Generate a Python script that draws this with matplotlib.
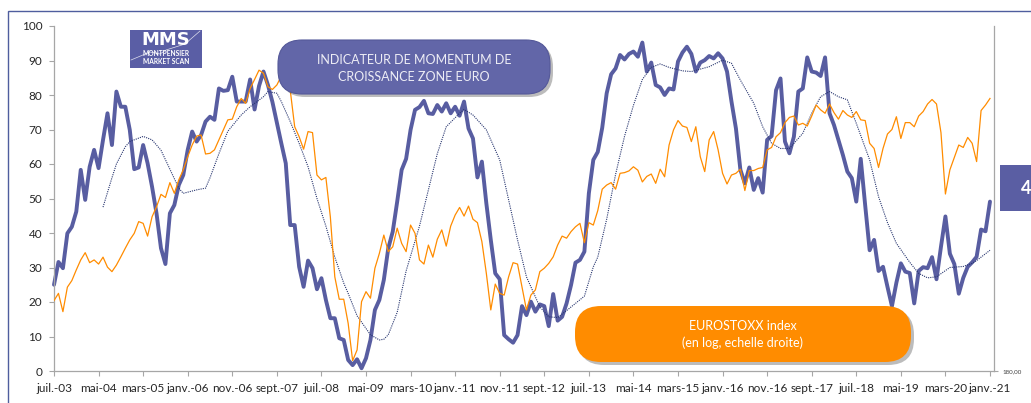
import numpy as np
import matplotlib.pyplot as plt
from matplotlib.patches import FancyBboxPatch, Rectangle
from matplotlib.lines import Line2D

# monthly values, juil.-03 .. janv.-21 (growth momentum indicator, left scale)
momentum = [25, 31.6, 29.8, 39.9, 41.8, 46.2, 58.3, 49.6, 59.2, 64.1,
            58.8, 67, 74.7, 65.5, 81, 76.6, 76.6, 69.9, 58.5, 59,
            65.5, 60.2, 53.4, 45.7, 35.6, 31, 45.7, 48.1, 53.9, 56.8,
            64.1, 69.4, 66.5, 68.4, 72.3, 73.7, 72.8, 81.9, 81.2, 81.4,
            85.3, 78.1, 78.1, 78.1, 84.5, 75.8, 82.6, 86.8, 82.9, 78,
            72, 66, 60.2, 42.3, 42.3, 30.2, 24.4, 32, 29.8, 23.7,
            26.9, 20.6, 15.3, 15.3, 9.5, 9, 3.2, 1.7, 3.4, 0.8,
            3.7, 9, 17.7, 20.6, 26.4, 35.6, 40.4, 49.1, 58.3, 61.5,
            69.9, 75.7, 76.5, 78.3, 74.7, 74.5, 77.1, 75.2, 77.6, 74.7,
            76.6, 74, 78.1, 70.3, 67.4, 56.1, 60.7, 48.6, 38, 28.3,
            26.6, 10.4, 9.2, 8.2, 10.4, 18.8, 16.2, 20.1, 17.2, 19.3,
            18.8, 13, 22.3, 14.6, 15.7, 19.6, 24.9, 31.4, 32.2, 34.6,
            51.5, 61.2, 63.5, 70.5, 80.5, 86, 87.7, 91.6, 90.3, 91.9,
            92.6, 91.1, 95.2, 86.8, 89.4, 82.9, 82.2, 80, 81.9, 81.6,
            89.7, 92.3, 94, 91.9, 86.8, 89.4, 90.1, 91.3, 90.6, 92.1,
            90.6, 86.8, 78.1, 70.3, 58.3, 54.4, 59, 52.5, 55.9, 51.7,
            67, 68.1, 81.4, 84.8, 66.5, 63.1, 67.9, 81, 81.9, 90.9,
            86.8, 86.5, 85.5, 90.9, 74.7, 71.3, 67, 62.6, 57.8, 55.9,
            49.1, 61.5, 48, 35, 38, 29, 30.2, 24.4, 18.8, 25.6,
            31.2, 28.8, 28.4, 19.6, 29, 30.1, 29.8, 33, 26.6, 36,
            44.8, 34, 31, 22.4, 27, 30.2, 31.5, 33.1, 41, 40.5,
            49.1]

# eurostoxx, read in chart units of the left scale (log scale on the right)
eurostoxx = [20.4, 22.5, 17.2, 24.3, 26.2, 29.3, 32.2, 34.3, 31.4, 32.2,
             31, 33, 30.1, 28.8, 30.7, 33.1, 35.6, 38, 39.9, 43.3,
             42.8, 39.1, 44.7, 47.6, 51.2, 50.3, 54.6, 51.5, 55.4, 58.3,
             62.1, 65.5, 68.1, 68.4, 62.9, 63.1, 64.1, 67, 69.9, 72.8,
             73, 76.6, 79, 77.6, 81.9, 84.5, 87.2, 86.3, 82.4, 81.6,
             82.9, 85.5, 82.4, 81.4, 70.8, 67.9, 64.3, 69.4, 69.1, 56.8,
             55.4, 56.1, 44.7, 27.3, 20.8, 20.8, 13.8, 3, 6.1, 20.1,
             23, 21.1, 29.8, 34.1, 39.4, 34.6, 36, 41.4, 37, 34.6,
             42.3, 39.9, 32.2, 31, 36.5, 33, 38.2, 40.9, 36.2, 42,
             45.2, 47.4, 44.9, 47.8, 44, 43, 37.5, 28.3, 17.7, 25.2,
             22.5, 22, 27.3, 31.4, 31, 24.4, 17.7, 22, 23.5, 28.8,
             29.8, 31.2, 33.1, 36.5, 39.1, 38.5, 40.4, 41.8, 42.8, 37.2,
             43, 42.3, 46.5, 52.7, 53.9, 54.6, 52.7, 57.3, 57.5, 58,
             59.2, 58.2, 54.8, 56.4, 57.1, 54.4, 58.5, 56.3, 65.5, 69.9,
             72.6, 71, 70.6, 66.5, 70.8, 62.1, 57.8, 67, 69.4, 64.1,
             57.3, 54.2, 56.8, 57.3, 58.5, 52.3, 58.1, 58.1, 58.7, 59,
             64.1, 64.8, 67.9, 69.1, 72, 73.5, 73.9, 71.3, 71.8, 71,
             73.9, 77.1, 75.7, 74.7, 77.4, 74.9, 73, 75.5, 74.2, 73.5,
             75.2, 72.8, 72.6, 66, 64.5, 59, 64.5, 68.7, 70, 73.7,
             67.4, 72, 72, 70.8, 73.9, 75.2, 77.4, 78.7, 77.4, 69.1,
             51.3, 58.3, 61.9, 65.5, 64.8, 67.7, 66, 60.7, 75.5, 77.1,
             79]

# moving average of the indicator (dotted), read at some months
ma_month = [11, 13, 14, 16, 17, 20, 22, 24, 26, 28, 29, 32, 34, 35, 37, 39,
            42, 44, 47, 48, 50, 51, 53, 55, 57, 59, 61, 63, 65, 66, 68, 71,
            73, 74, 75, 77, 79, 82, 84, 86, 88, 91, 92, 94, 97, 100, 102,
            104, 106, 109, 111, 113, 115, 119, 121, 122, 124, 126, 128, 130,
            132, 134, 136, 138, 141, 143, 147, 150, 152, 154, 157, 159, 161,
            163, 165, 168, 170, 172, 174, 176, 178, 180, 183, 185, 187, 189,
            192, 194, 196, 198, 201, 204, 206, 207, 210]
ma_value = [47.5, 56, 60, 65, 66.5, 68, 67, 64, 58.5, 53, 51.5, 52.5, 53, 56,
            63, 69.5, 74.2, 76.6, 79.5, 81, 80.5, 78.1, 72.3, 66, 59.2, 50,
            42, 33, 25.5, 22.5, 16, 10.5, 9, 9.2, 10.5, 17, 29, 42, 52.5, 63,
            70.8, 74.7, 75.8, 74.2, 69.9, 61.2, 49.6, 38, 27.3, 18.6, 15.7,
            15.5, 17.5, 21.7, 30.2, 33, 44, 57, 68, 77, 84.5, 88, 89, 88, 87,
            86.8, 88.2, 90.1, 89.2, 84.3, 77.6, 70.8, 66, 64.5, 64.5, 68.9,
            74.7, 79.5, 81, 79.5, 78.6, 71.8, 61.2, 50.5, 43, 37, 31.5, 28.3,
            27, 27.3, 30, 30.3, 31.2, 32, 35]

xlabels = ['juil.-03', 'mai-04', 'mars-05', 'janv.-06', 'nov.-06', 'sept.-07',
           'juil.-08', 'mai-09', 'mars-10', 'janv.-11', 'nov.-11', 'sept.-12',
           'juil.-13', 'mai-14', 'mars-15', 'janv.-16', 'nov.-16', 'sept.-17',
           'juil.-18', 'mai-19', 'mars-20', 'janv.-21']

W, H = 1031, 403
BLUE = '#585DA1'
ORANGE = '#FF8C00'
GREY = '#A6A6A6'
plt.rcParams['font.family'] = ['Lato', 'DejaVu Sans']

fig = plt.figure(figsize=(W/100, H/100), dpi=100)
ax = fig.add_axes([54/W, 1-371/H, 940/W, 345/H])
ax2 = ax.twinx()

months = np.arange(len(momentum))
ax.plot(months, momentum, color=BLUE, lw=2.8, solid_joinstyle='round',
        solid_capstyle='round', clip_on=False, zorder=2)
ax.plot(ma_month, ma_value, color='#27356F', lw=0.8, ls=(0, (1, 1)), zorder=3)
ax2.plot(months, eurostoxx, color=ORANGE, lw=0.9, zorder=4)

ax.set_xlim(0, 210.9)
ax.set_ylim(0, 100)
ax2.set_ylim(0, 100)
ax.set_yticks(range(0, 101, 10))
ax.set_xticks(range(0, 211, 10))
ax.set_xticklabels(xlabels)
ax.tick_params(axis='both', direction='out', length=3.5, width=0.8, color=GREY,
               labelsize=8.5, labelcolor='#262626', pad=5)
ax2.set_yticks([0])
ax2.set_yticklabels(['180,00'])
ax2.tick_params(axis='y', direction='out', length=3, width=0.8, color=GREY,
                labelsize=4.5, labelcolor='#404040', pad=3)
for s in ['top', 'right']:
    ax.spines[s].set_visible(False)
for s in ['top', 'left', 'bottom']:
    ax2.spines[s].set_visible(False)
for a, s in [(ax, 'left'), (ax, 'bottom'), (ax2, 'right')]:
    a.spines[s].set_color(GREY)
    a.spines[s].set_linewidth(0.9)

T = fig.dpi_scale_trans


def rect_px(x0, y0, x1, y1):
    return (x0/100, (H-y1)/100), (x1-x0)/100, (y1-y0)/100


# outer frame
xy, w, h = rect_px(8, 11, 1100, 500)
fig.add_artist(Rectangle(xy, w, h, transform=T, fill=False, ec='#4F5E9E',
                         lw=1.0, clip_on=False))

# logo
xy, w, h = rect_px(130, 30, 202, 68)
fig.add_artist(Rectangle(xy, w, h, transform=T, fc='#5A5EA5', ec='none'))
lx = np.array([131, 150, 160, 166, 185, 200]) / 100
ly = (H - np.array([60, 52, 54, 50, 44, 31])) / 100
fig.add_artist(Line2D(lx, ly, transform=T, color='white', lw=0.5, alpha=0.8))
fig.text(166/W, 1-40/H, 'MMS', color='white', fontsize=13, fontweight='bold',
         ha='center', va='center', family='DejaVu Sans')
fig.text(166/W, 1-54/H, 'MONTPENSIER', color='white', fontsize=4.8,
         fontweight='bold', ha='center', va='center')
fig.text(166/W, 1-62/H, 'MARKET SCAN', color='white', fontsize=4.8,
         fontweight='bold', ha='center', va='center')

# title pill
xy, w, h = rect_px(281, 43, 553, 97)
fig.add_artist(FancyBboxPatch(xy, w, h, transform=T, fc='#404040', ec='none',
                              alpha=0.35, boxstyle='round,pad=0,rounding_size=0.24'))
xy, w, h = rect_px(278, 40, 550, 94)
fig.add_artist(FancyBboxPatch(xy, w, h, transform=T, fc='#6266A8', ec='#545899',
                              lw=0.8, boxstyle='round,pad=0,rounding_size=0.24'))
fig.text(414/W, 1-60/H, 'INDICATEUR DE MOMENTUM DE', color='#EDEDF5',
         fontsize=9, ha='center', va='center')
fig.text(414/W, 1-77/H, 'CROISSANCE ZONE EURO', color='#EDEDF5',
         fontsize=9, ha='center', va='center')

# eurostoxx pill
xy, w, h = rect_px(578, 309, 914, 365)
fig.add_artist(FancyBboxPatch(xy, w, h, transform=T, fc='#404040', ec='none',
                              alpha=0.35, boxstyle='round,pad=0,rounding_size=0.26'))
xy, w, h = rect_px(575, 306, 911, 362)
fig.add_artist(FancyBboxPatch(xy, w, h, transform=T, fc=ORANGE, ec='none',
                              boxstyle='round,pad=0,rounding_size=0.26'))
fig.text(743/W, 1-326/H, 'EUROSTOXX index', color='white', fontsize=9,
         ha='center', va='center')
fig.text(743/W, 1-343/H, '(en log, echelle droite)', color='white', fontsize=9,
         ha='center', va='center')

# page number tab on the right
xy, w, h = rect_px(1000, 165, 1060, 211)
fig.add_artist(Rectangle(xy, w, h, transform=T, fc='#5A5EA3', ec='none'))
fig.text(1021/W, 1-189/H, '4', color='white', fontsize=13, fontweight='bold',
         ha='left', va='center')

fig.savefig('out.png', dpi=100)
